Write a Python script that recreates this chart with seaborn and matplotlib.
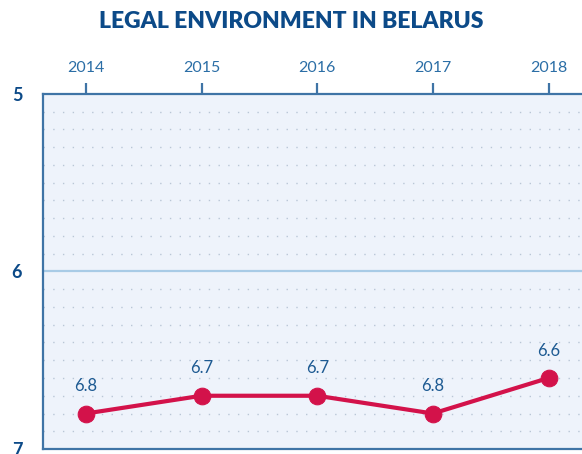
import numpy as np
import pandas as pd
import matplotlib
matplotlib.use('Agg')
import matplotlib.pyplot as plt
import seaborn as sns

years = [2014, 2015, 2016, 2017, 2018]
scores = [6.8, 6.7, 6.7, 6.8, 6.6]
labels = ['6.8', '6.7', '6.7', '6.8', '6.6']
y_ticks = [5, 6, 7]

df = pd.DataFrame({'year': years, 'score': scores})

sns.set_style('white', {'axes.facecolor': '#eef3fb'})
plt.rcParams['font.family'] = ['Lato', 'DejaVu Sans']

navy = '#0c4a88'
blue = '#2b6ea6'
spine = '#3f74a6'
red = '#d3124a'

fig = plt.figure(figsize=(5.82, 4.54), dpi=100)
ax = fig.add_axes([0.074, 0.011, 0.95, 0.782])

# dotted minor grid every 0.1
for v in np.arange(5.1, 7.0, 0.1):
    if abs(v - 6) < 1e-6:
        continue
    ax.axhline(v, color='#b9c6d6', linewidth=1, linestyle=(0, (1, 6)), zorder=1)
ax.axhline(6, color='#a8cbe6', linewidth=1.6, zorder=1)

sns.lineplot(data=df, x='year', y='score', ax=ax, color=red, linewidth=3,
             marker='o', markersize=12, markeredgecolor=red, zorder=3)

for x, y, t in zip(years, scores, labels):
    ax.annotate(t, (x, y), xytext=(0, 14), textcoords='offset points',
                ha='center', va='bottom', fontsize=12, color='#1d5a92')

ax.set_xlim(2013.63, 2018.41)
ax.set_ylim(7, 5)
ax.set_yticks(y_ticks)
ax.set_yticklabels([str(t) for t in y_ticks], fontsize=13, fontweight='bold', color=navy)
ax.set_xticks(years)
ax.set_xticklabels([str(y) for y in years], fontsize=11.5, color=blue)
ax.xaxis.tick_top()
ax.set_xlabel('')
ax.set_ylabel('')
ax.tick_params(axis='x', direction='out', length=8, width=1.6, color=spine, pad=6)
ax.tick_params(axis='y', direction='out', length=9, width=1.6, color=spine, pad=6)

for side in ['left', 'top', 'bottom']:
    ax.spines[side].set_color(spine)
    ax.spines[side].set_linewidth(1.6)
ax.spines['right'].set_visible(False)

fig.text(0.5, 0.952, 'LEGAL ENVIRONMENT IN BELARUS', ha='center', va='center',
         fontsize=16.5, fontweight='heavy', color=navy)

fig.savefig('out.png', dpi=100, facecolor='white')
